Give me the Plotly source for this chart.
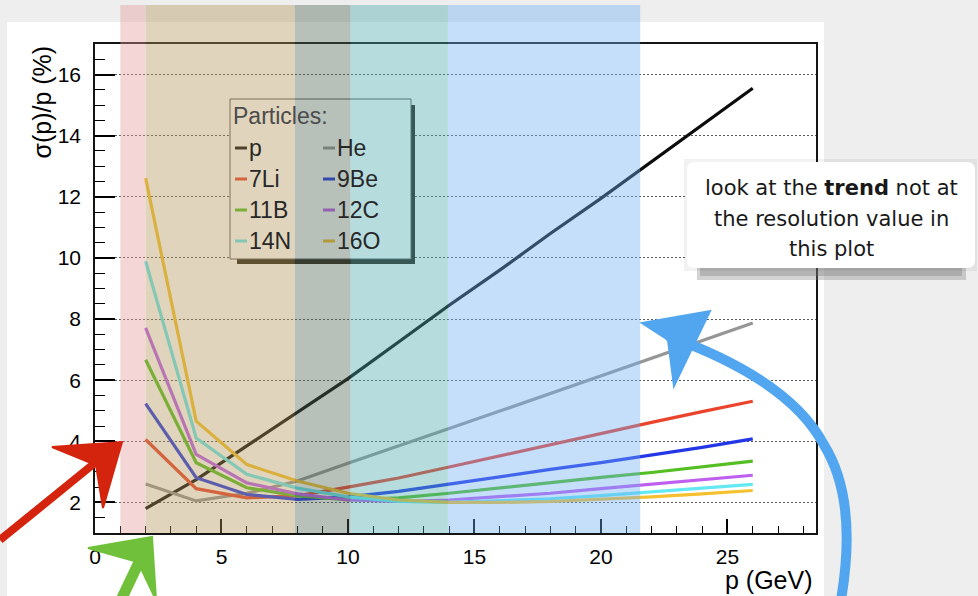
import plotly.graph_objects as go

# ---------------- data ----------------
momentum = [2, 4, 6, 8, 10, 12, 14, 16, 18, 20, 22, 24, 26]
res_p   = [1.80, 2.75, 3.85, 4.95, 6.05, 7.25, 8.45, 9.60, 10.80, 11.95, 13.15, 14.35, 15.55]
res_He  = [2.60, 2.05, 2.30, 2.70, 3.28, 3.84, 4.42, 4.99, 5.57, 6.14, 6.72, 7.29, 7.87]
res_Li7 = [4.06, 2.45, 2.15, 2.22, 2.50, 2.80, 3.16, 3.53, 3.89, 4.26, 4.62, 4.97, 5.31]
res_Be9 = [5.23, 2.81, 2.26, 2.10, 2.18, 2.36, 2.60, 2.85, 3.08, 3.30, 3.55, 3.80, 4.08]
res_B11 = [6.67, 3.30, 2.48, 2.22, 2.08, 2.15, 2.30, 2.48, 2.65, 2.82, 2.98, 3.16, 3.35]
res_C12 = [7.71, 3.57, 2.64, 2.28, 2.08, 2.03, 2.08, 2.18, 2.30, 2.45, 2.60, 2.75, 2.89]
res_N14 = [9.89, 4.11, 2.92, 2.47, 2.18, 2.03, 2.00, 2.05, 2.12, 2.22, 2.35, 2.47, 2.59]
res_O16 = [12.61, 4.66, 3.24, 2.70, 2.30, 2.08, 2.00, 2.00, 2.03, 2.10, 2.18, 2.28, 2.39]

particles = ["p", "He", "7Li", "9Be", "11B", "12C", "14N", "16O"]
series = [res_p, res_He, res_Li7, res_Be9, res_B11, res_C12, res_N14, res_O16]
colors = ["rgb(12,12,12)", "rgb(150,150,150)", "rgb(235,68,45)", "rgb(35,55,230)",
          "rgb(85,190,35)", "rgb(190,95,240)", "rgb(100,232,242)", "rgb(246,193,48)"]

# momentum bands (GeV)
band_edges = [[1.0, 2.0], [2.0, 7.9], [7.9, 10.1], [10.1, 13.95], [13.95, 21.55]]
band_colors = ["rgba(228,153,153,0.4)", "rgba(177,150,87,0.4)", "rgba(78,98,83,0.4)",
               "rgba(75,168,173,0.4)", "rgba(110,172,242,0.4)"]

x_tickvals = [0, 5, 10, 15, 20, 25]
y_tickvals = [2, 4, 6, 8, 10, 12, 14, 16]

# ---------------- geometry helpers (pixel -> paper) ----------------
W, H = 978, 596
L, R, T, B = 95, 816, 44, 533


def fx(px):
    return (px - L) / (R - L)


def fy(py):
    return (B - py) / (B - T)


def pt(px, py):
    return f"{fx(px):.5f},{fy(py):.5f}"


def poly(points, close=True):
    s = "M " + " L ".join(pt(*p) for p in points)
    return s + (" Z" if close else "")


font_main = "Liberation Sans, Arial, Helvetica, sans-serif"

fig = go.Figure()
for name, ys, col in zip(particles, series, colors):
    fig.add_trace(go.Scatter(x=momentum, y=ys, mode="lines", name=name,
                             line=dict(color=col, width=3.2), showlegend=False))

shapes = []
# white slide panel
shapes.append(dict(type="rect", xref="paper", yref="paper", layer="below",
                   x0=fx(7), x1=fx(824), y0=fy(600), y1=fy(22),
                   fillcolor="white", line=dict(width=0)))

# legend box (drawn manually, ROOT style)
shapes.append(dict(type="rect", xref="paper", yref="paper", layer="above",
                   x0=fx(237), x1=fx(415), y0=fy(264), y1=fy(258),
                   fillcolor="rgb(40,34,24)", line=dict(width=0)))
shapes.append(dict(type="rect", xref="paper", yref="paper", layer="above",
                   x0=fx(410), x1=fx(415), y0=fy(264), y1=fy(105),
                   fillcolor="rgb(40,34,24)", line=dict(width=0)))
shapes.append(dict(type="rect", xref="paper", yref="paper", layer="above",
                   x0=fx(230), x1=fx(411), y0=fy(259), y1=fy(99),
                   fillcolor="white", line=dict(color="rgb(90,90,90)", width=1)))

annotations = []
annotations.append(dict(xref="paper", yref="paper", x=fx(231), y=fy(116),
                        xanchor="left", yanchor="middle", showarrow=False,
                        text="Particles:", font=dict(family=font_main, size=23, color="rgb(75,75,75)")))
for i, (name, col) in enumerate(zip(particles, colors)):
    c, r = i % 2, i // 2
    x0 = 235 if c == 0 else 323
    yy = 148 + r * 31
    shapes.append(dict(type="line", xref="paper", yref="paper", layer="above",
                       x0=fx(x0), x1=fx(x0 + 12), y0=fy(yy), y1=fy(yy),
                       line=dict(color=col, width=3)))
    annotations.append(dict(xref="paper", yref="paper", x=fx(x0 + 12), y=fy(yy),
                            xanchor="left", yanchor="middle", showarrow=False,
                            text=name, font=dict(family=font_main, size=23, color="rgb(40,40,40)")))

# translucent momentum bands overlaid on top
for (a, b), col in zip(band_edges, band_colors):
    shapes.append(dict(type="rect", xref="x", yref="paper", layer="above",
                       x0=a, x1=b, y0=0, y1=fy(5),
                       fillcolor=col, line=dict(width=0)))

# hand-drawn arrows
red = "rgb(212,36,14)"
green = "rgb(112,192,60)"
blue = "rgb(82,166,240)"
shapes.append(dict(type="path", xref="paper", yref="paper", layer="above",
                   path=poly([(0, 540), (96, 462)], close=False),
                   line=dict(color=red, width=8)))
shapes.append(dict(type="path", xref="paper", yref="paper", layer="above",
                   path=poly([(52, 447), (122, 442), (103, 508), (96, 465)]),
                   fillcolor=red, line=dict(color=red, width=2)))
shapes.append(dict(type="path", xref="paper", yref="paper", layer="above",
                   path=poly([(121, 600), (140, 560)], close=False),
                   line=dict(color=green, width=11)))
shapes.append(dict(type="path", xref="paper", yref="paper", layer="above",
                   path=poly([(88, 548), (152, 537), (156, 600), (138, 562)]),
                   fillcolor=green, line=dict(color=green, width=2)))
shapes.append(dict(type="path", xref="paper", yref="paper", layer="above",
                   path=f"M {pt(841, 600)} Q {pt(858, 500)} {pt(824, 445)} Q {pt(790, 380)} {pt(668, 336)}",
                   line=dict(color=blue, width=10)))
shapes.append(dict(type="path", xref="paper", yref="paper", layer="above",
                   path=poly([(642, 323), (710, 311), (674, 386), (668, 340)]),
                   fillcolor=blue, line=dict(color=blue, width=2)))

# note box with soft shadow
shapes.append(dict(type="rect", xref="paper", yref="paper", layer="above",
                   x0=fx(697), x1=fx(966), y0=fy(280), y1=fy(264),
                   fillcolor="rgba(130,130,130,0.35)", line=dict(width=0)))
shapes.append(dict(type="rect", xref="paper", yref="paper", layer="above",
                   x0=fx(700), x1=fx(962), y0=fy(276), y1=fy(266),
                   fillcolor="rgba(110,110,110,0.3)", line=dict(width=0)))
shapes.append(dict(type="rect", xref="paper", yref="paper", layer="above",
                   x0=fx(684), x1=fx(977), y0=fy(271), y1=fy(159),
                   fillcolor="rgba(0,0,0,0.05)", line=dict(width=0)))
rx0, rx1, ry0, ry1, rr = 687, 975, 162, 268, 8
box_path = (f"M {pt(rx0 + rr, ry0)} L {pt(rx1 - rr, ry0)} Q {pt(rx1, ry0)} {pt(rx1, ry0 + rr)} "
            f"L {pt(rx1, ry1 - rr)} Q {pt(rx1, ry1)} {pt(rx1 - rr, ry1)} "
            f"L {pt(rx0 + rr, ry1)} Q {pt(rx0, ry1)} {pt(rx0, ry1 - rr)} "
            f"L {pt(rx0, ry0 + rr)} Q {pt(rx0, ry0)} {pt(rx0 + rr, ry0)} Z")
shapes.append(dict(type="path", xref="paper", yref="paper", layer="above",
                   path=box_path, fillcolor="white", line=dict(width=0)))

note_lines = ["look at the <b>trend</b> not at", "the resolution value in", "this plot"]
for k, line in enumerate(note_lines):
    annotations.append(dict(xref="paper", yref="paper", x=fx(831), y=fy(188 + 30.5 * k),
                            xanchor="center", yanchor="middle", showarrow=False, text=line,
                            font=dict(family="DejaVu Sans, sans-serif", size=21, color="rgb(25,25,25)")))

# axis titles (ROOT style placement)
annotations.append(dict(xref="paper", yref="paper", x=fx(815), y=fy(580),
                        xanchor="right", yanchor="middle", showarrow=False, text="p (GeV)",
                        font=dict(family=font_main, size=25, color="black")))
annotations.append(dict(xref="paper", yref="paper", x=fx(41), y=fy(44),
                        xanchor="center", yanchor="top", showarrow=False, text="σ(p)/p (%)",
                        textangle=-90, font=dict(family=font_main, size=25, color="black")))

fig.update_layout(
    width=W, height=H, autosize=False,
    margin=dict(l=L, r=W - R, t=T, b=H - B, pad=0),
    paper_bgcolor="rgb(238,238,238)",
    plot_bgcolor="rgba(0,0,0,0)",
    shapes=shapes, annotations=annotations, showlegend=False,
)
fig.update_xaxes(range=[0, 28.5], tickvals=x_tickvals, ticktext=[str(v) for v in x_tickvals],
                 ticks="inside", ticklen=14, tickwidth=1.5, tickcolor="black",
                 minor=dict(dtick=1, tick0=0, ticks="inside", ticklen=7, tickwidth=1.2, tickcolor="black",
                            showgrid=False),
                 showline=True, linecolor="rgb(20,20,20)", linewidth=1.5, mirror=True,
                 showgrid=False, zeroline=False, ticklabelstandoff=4,
                 tickfont=dict(family=font_main, size=21, color="black"))
fig.update_yaxes(range=[1, 17], tickvals=y_tickvals, ticktext=[str(v) for v in y_tickvals],
                 ticks="inside", ticklen=20, tickwidth=1.5, tickcolor="black",
                 minor=dict(dtick=0.5, tick0=0, ticks="inside", ticklen=10, tickwidth=1.2, tickcolor="black",
                            showgrid=False),
                 showline=True, linecolor="rgb(20,20,20)", linewidth=1.5, mirror=True,
                 showgrid=True, gridcolor="rgb(90,90,90)", griddash="2px,2px", gridwidth=1,
                 zeroline=False, ticklabelstandoff=8,
                 tickfont=dict(family=font_main, size=21, color="black"))

fig.write_html("out.html", config={"displayModeBar": False},
               post_script="document.body.style.margin='0';document.body.style.overflow='hidden';")
